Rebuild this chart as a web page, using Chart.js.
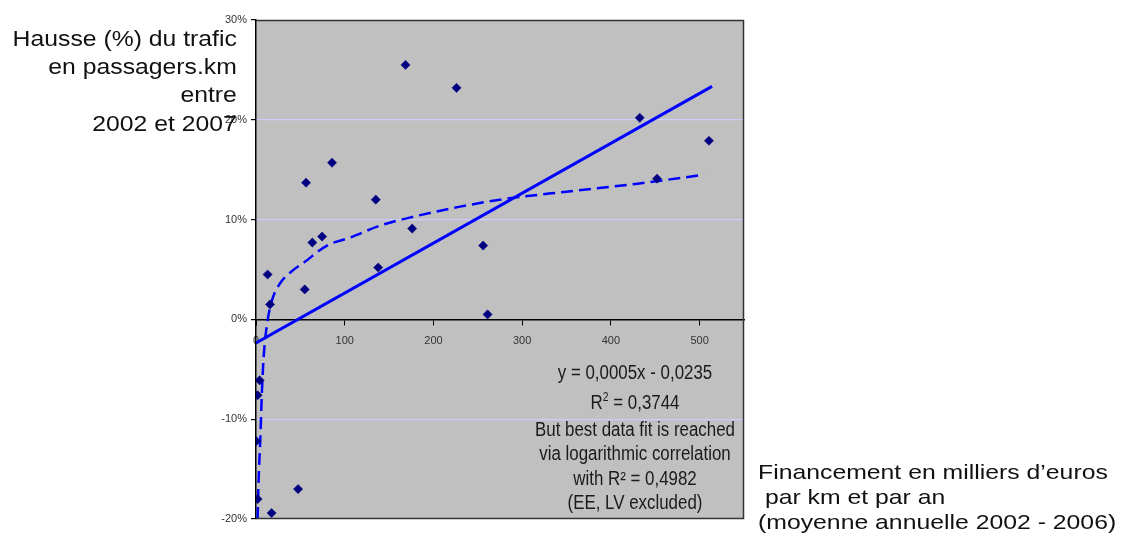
<!DOCTYPE html>
<html>
<head>
<meta charset="utf-8">
<script src="https://cdn.jsdelivr.net/npm/chart.js@4.4.0/dist/chart.umd.min.js"></script>
<style>
  html, body { margin: 0; padding: 0; background: #fff; }
  #wrap { position: relative; width: 1125px; height: 543px; overflow: hidden; }
  #chart { position: absolute; left: 0; top: 0; }
  .txt { position: absolute; font-family: "Liberation Sans", Arial, sans-serif; color: #111; white-space: pre; }
  #ytitle { right: 888px; top: 24.7px; font-size: 22.5px; line-height: 28.3px; text-align: right;
            transform: scaleX(1.1); transform-origin: right top; }
  #xtitle { left: 758px; top: 458.5px; font-size: 21px; line-height: 25px;
            transform: scaleX(1.18); transform-origin: left top; }
  #note { left: 485px; width: 300px; top: 360px; font-size: 19.5px; line-height: 24.5px; text-align: center;
          color: #1a1a1a; transform: scaleX(0.866); transform-origin: 150px 0; }
  #note .l2 { margin-top: 6.3px; line-height: 23px; display: block; }
  #note sup { font-size: 12px; vertical-align: baseline; position: relative; top: -8px; }
</style>
</head>
<body>
<div id="wrap">
  <canvas id="chart" width="1125" height="543"></canvas>
  <div id="ytitle" class="txt">Hausse (%) du trafic
en passagers.km
entre
2002 et 2007</div>
  <div id="xtitle" class="txt">Financement en milliers d’euros
 par km et par an
(moyenne annuelle 2002 - 2006)</div>
  <div id="note" class="txt">y = 0,0005x - 0,0235<span class="l2">R<sup>2</sup> = 0,3744</span>But best data fit is reached
via logarithmic correlation
with R² = 0,4982
(EE, LV excluded)</div>
</div>
<script>
// === Data ===
const fundingX = [168.5, 226, 432.5, 510.5, 452, 85.7, 56.4, 135, 176, 74.5, 63.5, 256,
  13.1, 137.7, 54.9, 15.8, 261, 4.1, 1.8, 0.3, 1.8, 47.4, 17.6];
const trafficY = [25.5, 23.2, 20.2, 17.9, 14.1, 15.7, 13.7, 12.0, 9.1, 8.3, 7.7, 7.4,
  4.5, 5.2, 3.0, 1.5, 0.5, -6.1, -7.6, -12.2, -18.0, -17.0, -19.4];

// linear trendline endpoints
const linX = [0, 514];
const linY = [-2.35, 23.35];

// logarithmic trendline, traced
const logX = [1.8, 2.9, 4.9, 6.7, 8.6, 12.4, 18, 27, 40, 54, 80, 106, 140, 178, 230, 283, 350, 430, 505];
const logY = [-20, -16.2, -11.9, -7.2, -3.8, -0.5, 1.9, 3.6, 4.8, 5.7, 7.4, 8.2, 9.4, 10.3, 11.3, 12.1, 12.8, 13.6, 14.5];

const xTicks = [0, 100, 200, 300, 400, 500];
const yTicks = [-20, -10, 0, 10, 20, 30];

const pairs = (xs, ys) => xs.map((x, i) => ({ x, y: ys[i] }));

// === Plot frame + background ===
const framePlugin = {
  id: "frame",
  beforeDraw(chart) {
    const { ctx, chartArea: a } = chart;
    ctx.save();
    ctx.fillStyle = "#c0c0c0";
    ctx.fillRect(a.left, a.top, a.right - a.left, a.bottom - a.top);
    ctx.restore();
  },
  afterDraw(chart) {
    const { ctx, chartArea: a } = chart;
    ctx.save();
    ctx.strokeStyle = "#333";
    ctx.lineWidth = 1.5;
    ctx.beginPath();
    ctx.moveTo(a.left, a.top + 0.5);
    ctx.lineTo(a.right - 0.5, a.top + 0.5);
    ctx.lineTo(a.right - 0.5, a.bottom - 0.5);
    ctx.lineTo(a.left, a.bottom - 0.5);
    ctx.stroke();
    ctx.restore();
  },
};

const chart = new Chart(document.getElementById("chart"), {
  type: "scatter",
  data: {
    datasets: [
      {
        label: "Pays",
        data: pairs(fundingX, trafficY),
        pointStyle: "rectRot",
        pointRadius: 4.6,
        pointBackgroundColor: "#000080",
        pointBorderColor: "#000080",
        pointBorderWidth: 0.5,
      },
      {
        label: "Linear",
        data: pairs(linX, linY),
        showLine: true,
        borderColor: "#0000ff",
        borderWidth: 3,
        pointRadius: 0,
      },
      {
        label: "Log",
        data: pairs(logX, logY),
        showLine: true,
        borderColor: "#0000ff",
        borderWidth: 2.5,
        borderDash: [12, 6],
        cubicInterpolationMode: "monotone",
        pointRadius: 0,
      },
    ],
  },
  options: {
    responsive: false,
    animation: false,
    layout: { padding: { left: 196, right: 381, top: 20, bottom: 24 } },
    plugins: { legend: false, tooltip: { enabled: false } },
    scales: {
      x: {
        type: "linear",
        min: 0,
        max: 550,
        position: { y: 0 },
        afterFit: (s) => { s.height = 0; },
        afterBuildTicks: (s) => { s.ticks = xTicks.map((v) => ({ value: v })); },
        grid: { drawOnChartArea: false, drawTicks: true, tickLength: 5, tickColor: "#000" },
        border: { display: true, color: "#000", width: 1.5 },
        ticks: {
          padding: 10,
          color: "#333",
          font: { family: "Liberation Sans, Arial, sans-serif", size: 11 },
        },
      },
      y: {
        min: -20,
        max: 30,
        afterFit: (s) => { s.width = 60; },
        afterBuildTicks: (s) => { s.ticks = yTicks.map((v) => ({ value: v })); },
        grid: {
          color: (c) => (c.tick && [-10, 10, 20].includes(c.tick.value) ? "#ccccff" : "rgba(0,0,0,0)"),
          lineWidth: 1.2,
          drawTicks: true,
          tickLength: 5,
          tickColor: "#000",
        },
        border: { display: true, color: "#000", width: 1.5 },
        ticks: {
          padding: 4,
          color: "#333",
          font: { family: "Liberation Sans, Arial, sans-serif", size: 11 },
          callback: (v) => v + "%",
        },
      },
    },
  },
  plugins: [framePlugin],
});
</script>
</body>
</html>
